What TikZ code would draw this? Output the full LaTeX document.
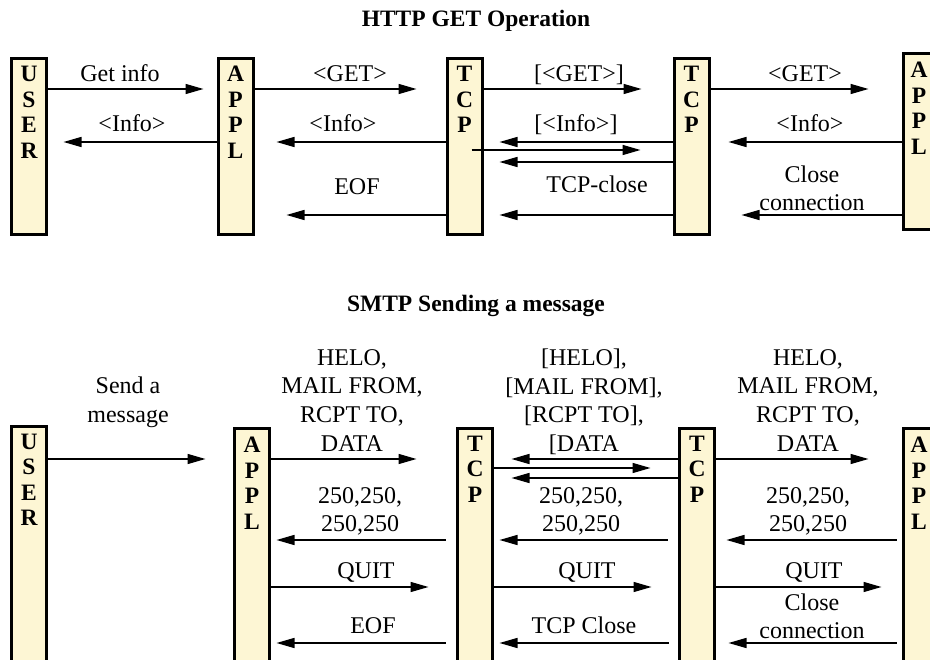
\documentclass[tikz,border=0pt]{standalone}
\usepackage{fontspec}
\setmainfont{Liberation Serif}
\usetikzlibrary{arrows.meta,positioning}

\definecolor{barfill}{RGB}{253,246,212}

\tikzset{
	bar/.style={draw, line width=3pt, fill=barfill, minimum width=35pt, inner sep=0pt},
	barname/.style={font=\bfseries\fontsize{23.5}{25.5}\selectfont, align=center, inner sep=0pt},
	msg/.style={line width=1.5pt, -{Triangle[length=18pt,width=10pt]}},
	lbl/.style={font=\fontsize{24}{28.7}\selectfont, align=center, inner sep=0pt},
	heading/.style={font=\bfseries\fontsize{23.5}{26}\selectfont, inner sep=0pt, anchor=base}
}

\begin{document}
\begin{tikzpicture}[x=1pt,y=-1pt]

	\useasboundingbox (0,0) rectangle (930,660);

	% HTTP GET
	\node[heading] (htitle) at (476,27) {HTTP GET Operation};

	\node[bar, minimum height=176pt] (huser) at (29,146.5) {};
	\node[bar, minimum height=176pt] (happl) at (235.5,146.5) {};
	\node[bar, minimum height=176pt] (htcpa) at (464.5,146.5) {};
	\node[bar, minimum height=176pt] (htcpb) at (691.5,146.5) {};
	\node[bar, minimum height=176pt] (happlb) at (921,141.5) {};

	\node[barname, below=9pt of huser.north] {U\\S\\E\\R};
	\node[barname, below=9pt of happl.north] {A\\P\\P\\L};
	\node[barname, below=9pt of htcpa.north] {T\\C\\P};
	\node[barname, below=9pt of htcpb.north] {T\\C\\P};
	\node[barname, below=10pt of happlb.north, xshift=-2pt] {A\\P\\P\\L};

	\draw[msg, shorten >=13pt] (huser.east |- 0,89) -- (happl.west |- 0,89);
	\draw[msg, shorten >=29pt] (happl.east |- 0,89) -- (htcpa.west |- 0,89);
	\draw[msg, shorten >=31pt] (htcpa.east |- 0,89) -- (htcpb.west |- 0,89);
	\draw[msg, shorten >=33.5pt] (htcpb.east |- 0,89) -- (happlb.west |- 0,89);

	\draw[msg, shorten >=15.5pt] (happl.west |- 0,142) -- (huser.east |- 0,142);
	\draw[msg, shorten >=22pt] (htcpa.west |- 0,142) -- (happl.east |- 0,142);
	\draw[msg, shorten >=16pt] (htcpb.west |- 0,142) -- (htcpa.east |- 0,142);
	\draw[msg, shorten >=18pt] (happlb.west |- 0,142) -- (htcpb.east |- 0,142);

	\draw[msg, shorten <=-12pt, shorten >=32pt] (htcpa.east |- 0,150) -- (htcpb.west |- 0,150);
	\draw[msg, shorten >=16pt] (htcpb.west |- 0,162) -- (htcpa.east |- 0,162);

	\draw[msg, shorten >=32pt] (htcpa.west |- 0,215) -- (happl.east |- 0,215);
	\draw[msg, shorten >=16pt] (htcpb.west |- 0,215) -- (htcpa.east |- 0,215);
	\draw[msg, shorten >=31pt] (happlb.west |- 0,215) -- (htcpb.east |- 0,215);

	\node[lbl, anchor=base] at (120,82) {Get info};
	\node[lbl, anchor=base] at (350,82) {<GET>};
	\node[lbl, anchor=base] at (579,82) {[<GET>]};
	\node[lbl, anchor=base] at (805,82) {<GET>};
	\node[lbl, anchor=base] at (132,132) {<Info>};
	\node[lbl, anchor=base] at (343,132) {<Info>};
	\node[lbl, anchor=base] at (576,132) {[<Info>]};
	\node[lbl, anchor=base] at (810,132) {<Info>};
	\node[lbl, anchor=base] at (357,195) {EOF};
	\node[lbl, anchor=base] at (597,193) {TCP-close};
	\node[lbl, anchor=north, font=\fontsize{24}{28}\selectfont] at (812,165.6) {Close\\connection};

	% SMTP
	\node[heading] (stitle) at (476,312) {SMTP Sending a message};

	\node[bar, minimum height=260pt] (suser) at (29,556.5) {};
	\node[bar, minimum height=260pt] (sappl) at (252,558.5) {};
	\node[bar, minimum height=260pt] (stcpa) at (475,558.5) {};
	\node[bar, minimum height=260pt] (stcpb) at (697,558.5) {};
	\node[bar, minimum height=260pt] (sapplb) at (921,558.5) {};

	\node[barname, below=8.5pt of suser.north] {U\\S\\E\\R};
	\node[barname, below=10pt of sappl.north] {A\\P\\P\\L};
	\node[barname, below=8.5pt of stcpa.north] {T\\C\\P};
	\node[barname, below=8.5pt of stcpb.north] {T\\C\\P};
	\node[barname, below=10pt of sapplb.north, xshift=-2pt] {A\\P\\P\\L};

	\draw[msg, shorten >=27.5pt] (suser.east |- 0,459) -- (sappl.west |- 0,459);
	\draw[msg, shorten >=39.5pt] (sappl.east |- 0,459) -- (stcpa.west |- 0,459);
	\draw[msg, shorten >=17.5pt] (stcpb.west |- 0,459) -- (stcpa.east |- 0,459);
	\draw[msg, shorten >=27.5pt] (stcpa.east |- 0,468) -- (stcpb.west |- 0,468);
	\draw[msg, shorten >=17.5pt] (stcpb.west |- 0,478) -- (stcpa.east |- 0,478);
	\draw[msg, shorten >=33.5pt] (stcpb.east |- 0,459) -- (sapplb.west |- 0,459);

	\draw[msg, shorten <=10.5pt, shorten >=5.5pt] (stcpa.west |- 0,540) -- (sappl.east |- 0,540);
	\draw[msg, shorten <=10.5pt, shorten >=5.5pt] (stcpb.west |- 0,540) -- (stcpa.east |- 0,540);
	\draw[msg, shorten <=5.5pt, shorten >=10.5pt] (sapplb.west |- 0,540) -- (stcpb.east |- 0,540);

	\draw[msg, shorten >=27.5pt] (sappl.east |- 0,587) -- (stcpa.west |- 0,587);
	\draw[msg, shorten >=26.5pt] (stcpa.east |- 0,587) -- (stcpb.west |- 0,587);
	\draw[msg, shorten >=20.5pt] (stcpb.east |- 0,587) -- (sapplb.west |- 0,587);

	\draw[msg, shorten <=10.5pt, shorten >=5.5pt] (stcpa.west |- 0,643) -- (sappl.east |- 0,643);
	\draw[msg, shorten <=9.5pt, shorten >=5.5pt] (stcpb.west |- 0,643) -- (stcpa.east |- 0,643);
	\draw[msg, shorten <=5.5pt, shorten >=12.5pt] (sapplb.west |- 0,643) -- (stcpb.east |- 0,643);

	\node[lbl, anchor=north] at (128,377) {Send a\\message};
	\node[lbl, anchor=north] at (352,349) {HELO,\\MAIL FROM,\\RCPT TO,\\DATA};
	\node[lbl, anchor=north] at (584,348.5) {[HELO],\\{[MAIL FROM]},\\{[RCPT TO]},\\{[DATA}};
	\node[lbl, anchor=north] at (808,349) {HELO,\\MAIL FROM,\\RCPT TO,\\DATA};
	\node[lbl, anchor=north] at (360,487) {250,250,\\250,250};
	\node[lbl, anchor=north] at (581,487) {250,250,\\250,250};
	\node[lbl, anchor=north] at (808,487) {250,250,\\250,250};
	\node[lbl, anchor=base] at (366,578) {QUIT};
	\node[lbl, anchor=base] at (587,578) {QUIT};
	\node[lbl, anchor=base] at (814,578) {QUIT};
	\node[lbl, anchor=base] at (373,633) {EOF};
	\node[lbl, anchor=base] at (584,633) {TCP Close};
	\node[lbl, anchor=north, font=\fontsize{24}{28}\selectfont] at (812,593.6) {Close\\connection};

\end{tikzpicture}
\end{document}
